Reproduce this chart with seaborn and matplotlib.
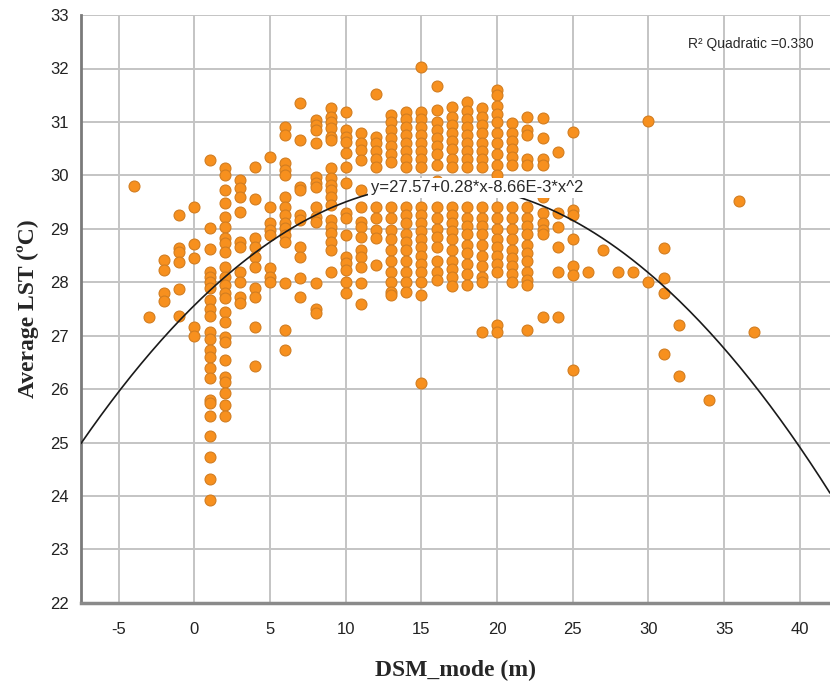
import numpy as np
import pandas as pd
import matplotlib
matplotlib.use('Agg')
import matplotlib.pyplot as plt
import seaborn as sns

# Average LST values, grouped by DSM_mode (m)
lst_by_dsm = {
    -4: [29.8],
    -3: [27.35],
    -2: [28.42, 28.23, 27.8, 27.64],
    -1: [29.26, 28.64, 28.57, 28.38, 27.87, 27.37],
    0: [29.4, 28.71, 28.46, 27.17, 27.0],
    1: [30.29, 29.02, 28.63, 28.2, 28.1, 28.0, 27.9, 27.67, 27.49, 27.36, 27.06, 26.93,
        26.74, 26.6, 26.4, 26.21, 25.8, 25.74, 25.5, 25.13, 24.72, 24.31, 23.92],
    2: [30.14, 30.0, 29.73, 29.49, 29.23, 29.04, 28.83, 28.74, 28.57, 28.29, 28.1, 27.95,
        27.8, 27.71, 27.45, 27.26, 26.98, 26.89, 26.55, 26.23, 26.14, 25.93, 25.71, 25.5],
    3: [29.92, 29.77, 29.6, 29.32, 28.76, 28.66, 28.2, 28.0, 27.73, 27.62],
    4: [30.16, 29.56, 28.83, 28.66, 28.48, 28.29, 27.9, 27.73, 27.17, 26.44],
    5: [30.35, 29.41, 29.11, 28.98, 28.89, 28.27, 28.1, 28.0],
    6: [30.91, 30.76, 30.23, 30.1, 30.0, 29.6, 29.41, 29.26, 29.11, 29.02, 28.89, 28.76,
        27.99, 27.11, 26.74],
    7: [31.36, 30.66, 29.79, 29.73, 29.26, 29.17, 28.66, 28.48, 28.08, 27.73],
    8: [31.04, 30.94, 30.85, 30.61, 29.97, 29.85, 29.79, 29.41, 29.23, 29.13, 27.99, 27.49, 27.43],
    9: [31.26, 31.1, 31.0, 30.89, 30.72, 30.66, 30.14, 29.95, 29.82, 29.73, 29.6, 29.45,
        29.17, 29.04, 28.92, 28.76, 28.6, 28.2],
    10: [31.19, 30.85, 30.72, 30.63, 30.42, 30.16, 29.85, 29.3, 29.2, 28.89, 28.48, 28.36,
         28.23, 28.0, 27.8],
    11: [30.79, 30.61, 30.48, 30.29, 29.73, 29.41, 29.13, 29.04, 28.85, 28.6, 28.48, 28.29,
         27.99, 27.6],
    12: [31.52, 30.72, 30.6, 30.45, 30.3, 30.15, 29.41, 29.2, 28.98, 28.83, 28.33],
    13: [31.13, 31.0, 30.85, 30.7, 30.55, 30.4, 30.25, 29.8, 29.41, 29.2, 28.98, 28.8,
         28.6, 28.4, 28.2, 28.0, 27.82, 27.77],
    14: [31.19, 31.05, 30.9, 30.75, 30.6, 30.45, 30.3, 30.16, 29.7, 29.41, 29.25, 29.1,
         28.9, 28.75, 28.6, 28.4, 28.2, 28.0, 27.82],
    15: [32.03, 31.19, 31.05, 30.9, 30.75, 30.6, 30.45, 30.3, 30.16, 29.8, 29.41, 29.25,
         29.1, 28.95, 28.8, 28.65, 28.5, 28.35, 28.2, 28.0, 27.77, 26.12],
    16: [31.67, 31.22, 31.0, 30.85, 30.7, 30.55, 30.4, 30.2, 29.9, 29.4, 29.2, 29.0,
         28.85, 28.65, 28.4, 28.2, 28.05],
    17: [31.28, 31.1, 30.95, 30.8, 30.65, 30.5, 30.3, 30.15, 29.75, 29.4, 29.25, 29.1,
         28.95, 28.8, 28.6, 28.4, 28.25, 28.1, 27.92],
    18: [31.37, 31.2, 31.05, 30.9, 30.75, 30.6, 30.45, 30.3, 30.15, 29.8, 29.4, 29.2,
         29.05, 28.9, 28.7, 28.55, 28.35, 28.15, 27.94],
    19: [31.26, 31.1, 30.95, 30.8, 30.6, 30.45, 30.3, 30.15, 29.4, 29.2, 29.05, 28.9,
         28.7, 28.5, 28.3, 28.1, 28.0, 27.07],
    20: [31.6, 31.5, 31.3, 31.15, 31.0, 30.8, 30.6, 30.4, 30.2, 30.0, 29.4, 29.2, 29.0,
         28.8, 28.65, 28.5, 28.35, 28.2, 27.2, 27.07],
    21: [30.98, 30.8, 30.65, 30.5, 30.35, 30.2, 29.4, 29.2, 29.0, 28.8, 28.6, 28.45,
         28.3, 28.15, 28.0],
    22: [31.1, 30.85, 30.75, 30.3, 30.2, 29.4, 29.2, 29.05, 28.9, 28.7, 28.55, 28.4,
         28.2, 28.05, 27.95, 27.1],
    23: [31.07, 30.7, 30.3, 30.2, 29.6, 29.3, 29.1, 28.98, 28.9, 27.34],
    24: [30.44, 29.3, 29.04, 28.66, 28.2, 27.34],
    25: [30.81, 29.36, 29.26, 28.8, 28.3, 28.14, 26.35],
    26: [28.2],
    27: [28.6],
    28: [28.2],
    29: [28.2],
    30: [31.02, 28.0],
    31: [28.64, 28.08, 27.8, 26.65],
    32: [27.19, 26.25],
    34: [25.8],
    36: [29.52],
    37: [27.07],
}

# quadratic fit reported on the chart: y = b0 + b1*x + b2*x^2
fit_coefs = [27.57, 0.28, -8.66e-3]
fit_label = 'y=27.57+0.28*x-8.66E-3*x^2'
r2_label = 'R² Quadratic =0.330'

x_ticks = [-5, 0, 5, 10, 15, 20, 25, 30, 35, 40]
y_ticks = list(range(22, 34))

rows = [(k, v) for k, vals in lst_by_dsm.items() for v in vals]
df = pd.DataFrame(rows, columns=['DSM_mode', 'LST'])

sns.set_style('white')
plt.rcParams['font.family'] = ['Liberation Sans Narrow', 'Liberation Sans', 'DejaVu Sans']
plt.rcParams['axes.unicode_minus'] = False

fig = plt.figure(figsize=(8.3, 6.85), dpi=100)
ax = fig.add_axes([0.0976, 0.12, 0.9024, 0.858])

sns.scatterplot(data=df, x='DSM_mode', y='LST', ax=ax, s=62,
                color='#f7901e', edgecolor='#d27d20', linewidth=0.8, zorder=3)

xs = np.linspace(-7.5, 42, 300)
ys = fit_coefs[0] + fit_coefs[1] * xs + fit_coefs[2] * xs ** 2
sns.lineplot(x=xs, y=ys, ax=ax, color='#1a1a1a', linewidth=1.2, zorder=4)

ax.text(11.65, 29.77, fit_label, ha='left', va='center', fontsize=12,
        family=['Liberation Sans', 'DejaVu Sans'], color='#2a2a2a', zorder=5,
        bbox=dict(boxstyle='square,pad=0.15', facecolor='white', edgecolor='none'))
ax.text(32.6, 32.46, r2_label, ha='left', va='center', fontsize=10,
        family=['Liberation Sans', 'DejaVu Sans'], color='#2a2a2a', zorder=5)

ax.set_xlim(-7.5, 42)
ax.set_ylim(22, 33)
ax.set_xticks(x_ticks)
ax.set_yticks(y_ticks)
ax.grid(True, color='#c4c4c4', linewidth=1.4)
ax.set_axisbelow(True)
ax.tick_params(axis='both', length=0, labelsize=12, colors='#222222')
ax.tick_params(axis='x', pad=14)
ax.tick_params(axis='y', pad=9)

for side in ['top', 'right']:
    ax.spines[side].set_visible(False)
ax.spines['left'].set_color('#7a7a7a')
ax.spines['left'].set_linewidth(2)
ax.spines['bottom'].set_color('#8a8a8a')
ax.spines['bottom'].set_linewidth(2.5)

ax.set_xlabel('DSM_mode (m)', fontsize=17, fontweight='bold',
              family='Liberation Serif', labelpad=16)
ax.set_ylabel('Average LST (ºC)', fontsize=17, fontweight='bold',
              family='Liberation Serif', labelpad=8)

fig.savefig('out.png', dpi=100)
